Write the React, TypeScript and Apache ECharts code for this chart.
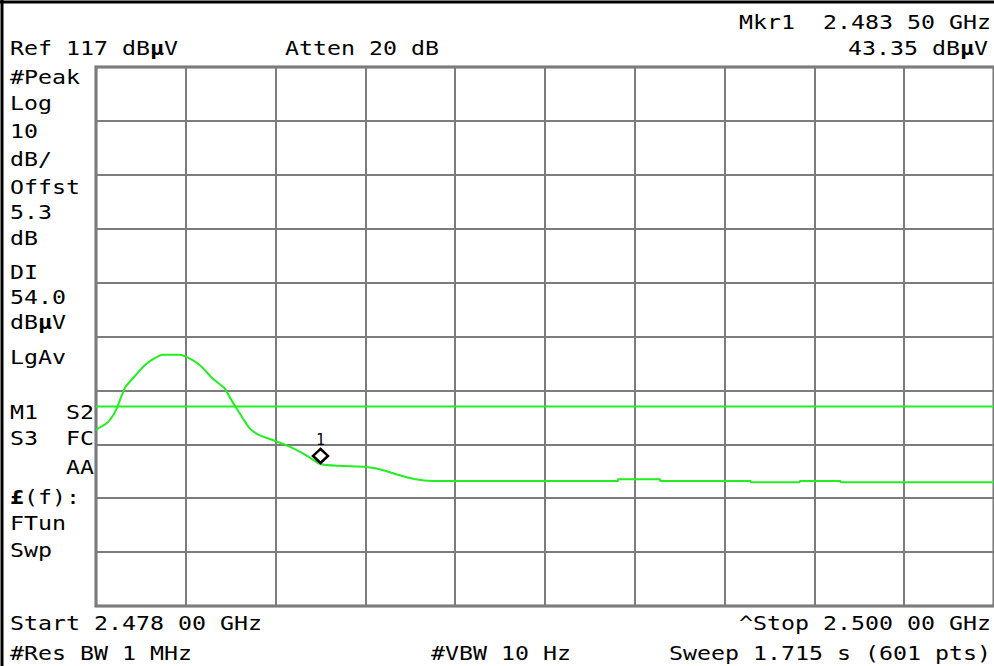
import React, { useEffect, useRef } from "react";
import * as echarts from "echarts";

// Trace (frequency in GHz, level in dBµV)
const traceFreqGHz = [
  2.478, 2.47826, 2.47842, 2.47851, 2.47871, 2.47891, 2.4792, 2.4794, 2.47964,
  2.48005, 2.4803, 2.48054, 2.48086, 2.48115, 2.48127, 2.48144, 2.4816, 2.48176,
  2.482, 2.48233, 2.48273, 2.48314, 2.4835, 2.48396, 2.48461, 2.48493, 2.48542,
  2.48583, 2.48624, 2.49079, 2.49079, 2.49182, 2.49182, 2.49404, 2.49404,
  2.49524, 2.49524, 2.49624, 2.49624, 2.5,
];
const traceLevel = [
  49.7, 50.9, 52.4, 53.7, 57.5, 59.3, 61.7, 62.8, 63.6,
  63.6, 62.9, 61.7, 59.2, 57.4, 55.8, 53.7, 51.8, 50.0,
  48.7, 47.8, 46.6, 45.0, 43.35, 43.0, 42.8, 42.4, 41.3,
  40.5, 40.2, 40.2, 40.5, 40.5, 40.2, 40.2, 39.95,
  39.95, 40.2, 40.2, 39.95, 39.95,
];
const startGHz = 2.478;
const stopGHz = 2.5;
const refLevel = 117;
const dbPerDiv = 10;
const divisions = 10;
const displayLineLevel = 54.0;
const markerFreqGHz = 2.4835;
const markerLevel = 43.35;
const markerName = "1";

const leftPanelLabels = [
  "#Peak", "Log", "10", "dB/", "Offst", "5.3", "dB", "DI", "54.0", "dBµV",
  "LgAv", "M1  S2", "S3  FC", "    AA", "£(f):", "FTun", "Swp",
];
const leftPanelY = [77, 103, 131, 159, 187, 212, 238, 272, 297, 322, 357, 412, 438, 467, 497, 523, 550];

const FONT = "DejaVu Sans Mono";
const FS = 20;
const SX = 1.163;

function mkText(str: string, x: number, y: number, align: string = "left") {
  // support bold µ and £
  const parts: string[] = [];
  let buf = "";
  for (const ch of str) {
    if (ch === "µ" || ch === "£") {
      if (buf) parts.push("{n|" + buf + "}");
      buf = "";
      parts.push("{b|" + ch + "}");
    } else buf += ch;
  }
  if (buf) parts.push("{n|" + buf + "}");
  return {
    type: "text",
    x,
    y,
    scaleX: SX,
    scaleY: 1,
    silent: true,
    style: {
      text: parts.join(""),
      align,
      verticalAlign: "middle",
      rich: {
        n: { fontFamily: FONT, fontSize: FS, fill: "#000" },
        b: { fontFamily: FONT, fontSize: FS, fontWeight: "bold", fill: "#000" },
      },
      fill: "#000",
      font: `${FS}px "${FONT}"`,
    },
  };
}

export default function App() {
  const ref = useRef<HTMLDivElement>(null);
  useEffect(() => {
    if (!ref.current) return;
    const chart = echarts.init(ref.current, null, { renderer: "svg" });
    const bottomLevel = refLevel - dbPerDiv * divisions;
    const traceData = traceFreqGHz.map((f, i) => [f, traceLevel[i]]);
    const gridColor = "#7c7c7c";
    const graphics: any[] = [
      { type: "line", shape: { x1: 0, y1: 2, x2: 994, y2: 2 }, style: { stroke: "#000", lineWidth: 3 }, silent: true },
      { type: "line", shape: { x1: 2, y1: 0, x2: 2, y2: 666 }, style: { stroke: "#000", lineWidth: 3 }, silent: true },
      mkText("Mkr1  2.483 50 GHz", 991, 22, "right"),
      mkText("Ref 117 dBµV", 10, 48),
      mkText("Atten 20 dB", 285, 48),
      mkText("43.35 dBµV", 988, 48, "right"),
      mkText("Start 2.478 00 GHz", 10, 623),
      mkText("^Stop 2.500 00 GHz", 991, 623, "right"),
      mkText("#Res BW 1 MHz", 10, 653),
      mkText("#VBW 10 Hz", 431, 653),
      mkText("Sweep 1.715 s (601 pts)", 991, 653, "right"),
    ];
    leftPanelLabels.forEach((l, i) => graphics.push(mkText(l, 10, leftPanelY[i])));

    chart.setOption({
      animation: false,
      backgroundColor: "#fff",
      grid: {
        left: 96,
        top: 67,
        width: 901,
        height: 539,
        show: true,
        borderColor: "#6a6a6a",
        borderWidth: 3,
        backgroundColor: "#fff",
      },
      xAxis: [
        { type: "value", min: startGHz, max: stopGHz, show: false },
        {
          type: "value", min: 0, max: divisions, interval: 1,
          axisLabel: { show: false }, axisTick: { show: false }, axisLine: { show: false },
          splitLine: { show: true, lineStyle: { color: gridColor, width: 2 } },
        },
      ],
      yAxis: [
        { type: "value", min: bottomLevel, max: refLevel, show: false },
        {
          type: "value", min: 0, max: divisions, interval: 1,
          axisLabel: { show: false }, axisTick: { show: false }, axisLine: { show: false },
          splitLine: { show: true, lineStyle: { color: gridColor, width: 2 } },
        },
      ],
      series: [
        {
          type: "line",
          xAxisIndex: 0,
          yAxisIndex: 0,
          data: [[startGHz, displayLineLevel], [stopGHz, displayLineLevel]],
          symbol: "none",
          lineStyle: { color: "#22ee22", width: 2 },
          silent: true,
        },
        {
          type: "line",
          xAxisIndex: 0,
          yAxisIndex: 0,
          data: traceData,
          symbol: "none",
          smooth: 0.2,
          lineStyle: { color: "#22ee22", width: 2 },
          silent: true,
        },
        {
          type: "scatter",
          xAxisIndex: 0,
          yAxisIndex: 0,
          data: [[markerFreqGHz, markerLevel]],
          symbol: "diamond",
          symbolSize: [15, 14],
          symbolOffset: [0, -8],
          itemStyle: { color: "#fff", borderColor: "#000", borderWidth: 2.5, opacity: 1 },
          label: {
            show: true,
            formatter: markerName,
            position: "top",
            distance: 0,
            rich: {
              m: { fontFamily: FONT, fontSize: 15, color: "#000" },
            },
            fontFamily: FONT,
            fontSize: 15,
            color: "#000",
          },
          emphasis: { disabled: true },
          silent: true,
          z: 5,
        },
      ],
      graphic: graphics,
    });
    return () => chart.dispose();
  }, []);
  return (
    <div
      ref={ref}
      style={{ position: "fixed", left: 0, top: 0, width: 994, height: 666, background: "#fff" }}
    />
  );
}
